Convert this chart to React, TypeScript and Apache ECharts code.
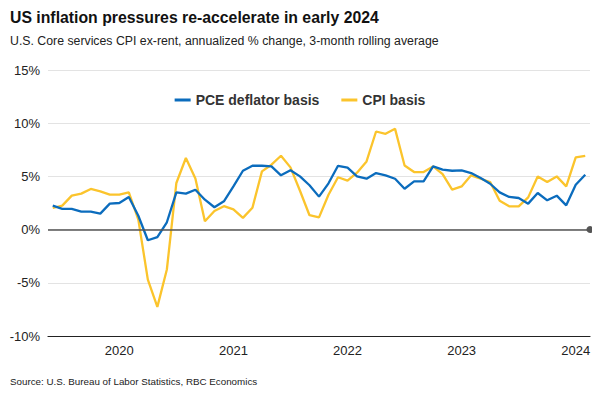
import React, { useEffect, useRef } from "react";
import * as echarts from "echarts";

const months: string[] = [];
for (let y = 2019; y <= 2024; y++) {
  for (let m = 1; m <= 12; m++) {
    if (y === 2019 && m < 6) continue;
    if (y === 2024 && m > 2) continue;
    months.push(`${y}-${String(m).padStart(2, "0")}`);
  }
}

const pceDeflator = [
  2.25, 1.94, 1.94, 1.69, 1.69, 1.5, 2.44, 2.5, 3.07, 1.3,
  -1.0, -0.7, 0.69, 3.5, 3.38, 3.75, 2.81, 2.1, 2.66, 4.06,
  5.53, 6.0, 6.0, 5.94, 5.1, 5.57, 5.0, 4.17, 3.1, 4.35,
  6.0, 5.82, 5.0, 4.78, 5.31, 5.1, 4.78, 3.84, 4.53, 4.53,
  5.94, 5.63, 5.53, 5.56, 5.31, 4.84, 4.31, 3.5, 3.07, 2.97,
  2.44, 3.44, 2.75, 3.19, 2.28, 4.22, 5.16,
];

const cpiBasis = [
  2.03, 2.25, 3.19, 3.38, 3.82, 3.6, 3.28, 3.28, 3.5, 0.94,
  -4.7, -7.26, -3.75, 4.38, 6.73, 4.8, 0.78, 1.75, 2.2, 1.9,
  1.1, 2.05, 5.47, 6.1, 6.94, 5.85, 3.65, 1.35, 1.15, 3.28,
  4.92, 4.6, 5.35, 6.41, 9.22, 9.0, 9.47, 6.03, 5.41, 5.41,
  5.94, 5.22, 3.75, 4.06, 5.1, 4.78, 4.47, 2.72, 2.19, 2.19,
  3.03, 5.0, 4.47, 5.0, 4.06, 6.78, 6.94,
];

const yTicks = { min: -10, max: 15, interval: 5 };

const isJan = (_i: number, v: string) => String(v).endsWith("-01");

export default function App() {
  const ref = useRef<HTMLDivElement>(null);
  useEffect(() => {
    if (!ref.current) return;
    const chart = echarts.init(ref.current, undefined, { renderer: "svg" });
    const font = "'Liberation Sans', Arial, sans-serif";
    chart.setOption({
      animation: false,
      textStyle: { fontFamily: font },
      title: [
        {
          text: "US inflation pressures re-accelerate in early 2024",
          left: 10,
          top: 9.5,
          padding: 0,
          textStyle: { fontSize: 15.8, fontWeight: "bold", color: "#111", fontFamily: font },
        },
        {
          text: "U.S. Core services CPI ex-rent, annualized % change, 3-month rolling average",
          left: 10,
          top: 34.5,
          padding: 0,
          textStyle: { fontSize: 12.3, fontWeight: "normal", color: "#222", fontFamily: font },
        },
        {
          text: "Source: U.S. Bureau of Labor Statistics, RBC Economics",
          left: 10,
          top: 376.5,
          padding: 0,
          textStyle: { fontSize: 9.8, fontWeight: "normal", color: "#222", fontFamily: font },
        },
      ],
      legend: {
        top: 88,
        left: "center",
        itemGap: 22,
        itemWidth: 16,
        itemHeight: 3,
        icon: "rect",
        textStyle: { fontSize: 14, fontWeight: "bold", color: "#333", fontFamily: font },
        data: ["PCE deflator basis", "CPI basis"],
      },
      grid: { left: 48, right: 10, top: 70, bottom: 64, containLabel: false },
      xAxis: {
        type: "category",
        data: months,
        boundaryGap: true,
        axisLine: { onZero: false, lineStyle: { color: "#222", width: 1.2 } },
        axisTick: { alignWithLabel: true, interval: isJan, length: 5, lineStyle: { color: "#222" } },
        axisLabel: {
          interval: isJan,
          formatter: (v: string) => v.slice(0, 4),
          fontSize: 13,
          color: "#222",
          margin: 8,
          fontFamily: font,
        },
        splitLine: { show: false },
      },
      yAxis: {
        type: "value",
        min: yTicks.min,
        max: yTicks.max,
        interval: yTicks.interval,
        axisLine: { show: false },
        axisTick: { show: false },
        axisLabel: { formatter: "{value}%", fontSize: 13, color: "#222", margin: 8, fontFamily: font },
        splitLine: { lineStyle: { color: "#e3e3e3", width: 1 } },
      },
      series: [
        {
          name: "PCE deflator basis",
          type: "line",
          data: pceDeflator,
          symbol: "none",
          lineStyle: { color: "#0b6cbd", width: 2.3 },
          itemStyle: { color: "#0b6cbd" },
          z: 3,
          markLine: {
            silent: true,
            symbol: ["none", "circle"],
            symbolSize: 7,
            label: { show: false },
            lineStyle: { color: "#555", width: 1.5, type: "solid" },
            data: [{ yAxis: 0 }],
          },
        },
        {
          name: "CPI basis",
          type: "line",
          data: cpiBasis,
          symbol: "none",
          lineStyle: { color: "#fbc42c", width: 2.3 },
          itemStyle: { color: "#fbc42c" },
          z: 2,
        },
      ],
    });
    return () => chart.dispose();
  }, []);
  return <div ref={ref} style={{ width: 600, height: 400, margin: -8 }} />;
}
